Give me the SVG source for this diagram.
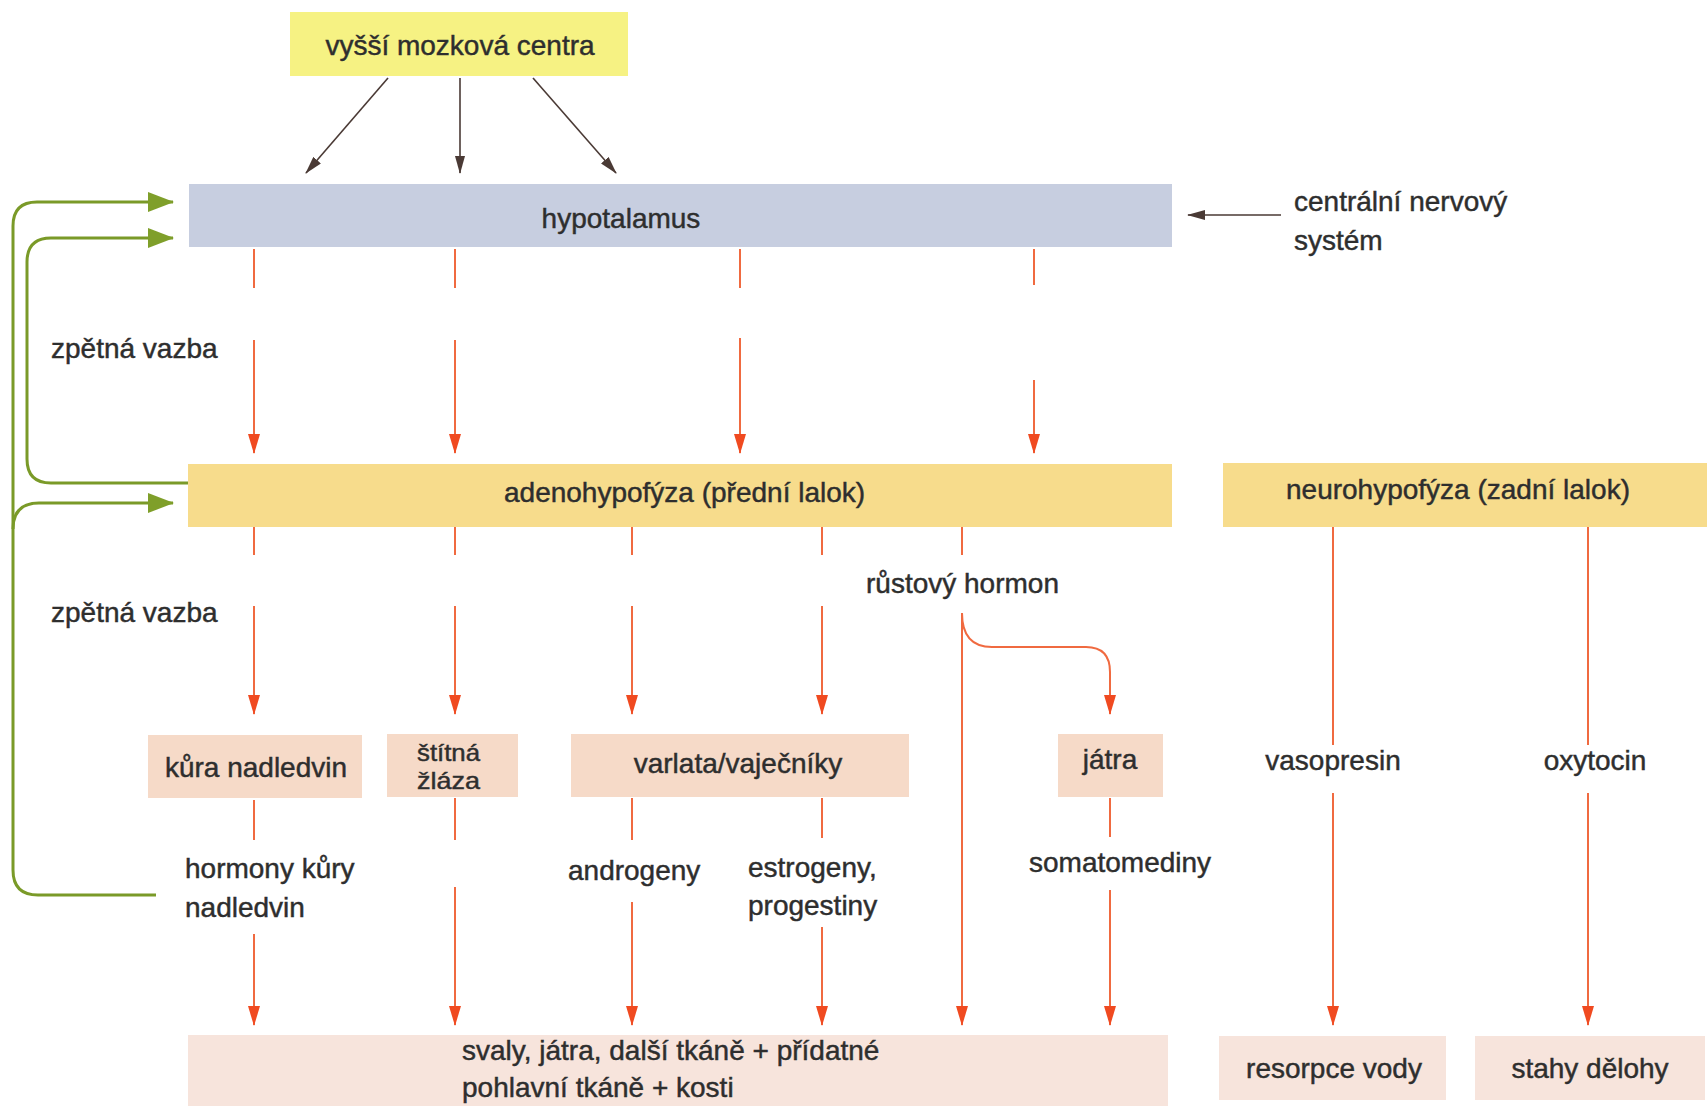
<svg xmlns="http://www.w3.org/2000/svg" width="1707" height="1106" viewBox="0 0 1707 1106">
<style>
  text { font-family: "Liberation Sans", Arial, sans-serif; font-size: 28px; fill: #2e2e2e; stroke: #2e2e2e; stroke-width: 0.45; }
  .mid { text-anchor: middle; }
  .small { font-size: 24px; }
  .red { stroke: #f06a40; stroke-width: 2; fill: none; }
  .green { stroke: #7a9a28; stroke-width: 3; fill: none; }
  .dark { stroke: #4a3a35; stroke-width: 1.6; fill: none; }
  .yellow { fill: #f6f283; }
  .blue { fill: #c7cee0; }
  .gold { fill: #f7dc8c; }
  .peach { fill: #f6dac8; }
  .pink { fill: #f7e4dc; }
</style>
<defs>
  <marker id="ar" markerUnits="userSpaceOnUse" markerWidth="12" markerHeight="20" refX="6" refY="19" orient="0" viewBox="0 0 12 20">
    <path d="M0,0 L12,0 L6,20 Z" fill="#f04a20"/>
  </marker>
  <marker id="ag" markerUnits="userSpaceOnUse" markerWidth="26" markerHeight="20" refX="25" refY="10" orient="auto" viewBox="0 0 26 20">
    <path d="M0,0 L26,10 L0,20 Z" fill="#7f9f2a"/>
  </marker>
  <marker id="ad" markerUnits="userSpaceOnUse" markerWidth="18" markerHeight="10" refX="17" refY="5" orient="auto" viewBox="0 0 18 10">
    <path d="M0,0 L18,5 L0,10 Z" fill="#4a3a35"/>
  </marker>
</defs>
<rect width="1707" height="1106" fill="#ffffff"/>

<g id="connectors">
  <!-- higher brain centres to hypothalamus -->
  <line class="dark" x1="388" y1="78" x2="306" y2="173" marker-end="url(#ad)"/>
  <line class="dark" x1="460" y1="78" x2="460" y2="173" marker-end="url(#ad)"/>
  <line class="dark" x1="533" y1="78" x2="616" y2="173" marker-end="url(#ad)"/>
  <line class="dark" x1="1281" y1="215" x2="1188" y2="215" marker-end="url(#ad)"/>

  <!-- hypothalamus to adenohypophysis -->
  <line class="red" x1="254" y1="249" x2="254" y2="288"/>
  <line class="red" x1="254" y1="340" x2="254" y2="453" marker-end="url(#ar)"/>
  <line class="red" x1="455" y1="249" x2="455" y2="288"/>
  <line class="red" x1="455" y1="340" x2="455" y2="453" marker-end="url(#ar)"/>
  <line class="red" x1="740" y1="249" x2="740" y2="288"/>
  <line class="red" x1="740" y1="338" x2="740" y2="453" marker-end="url(#ar)"/>
  <line class="red" x1="1034" y1="249" x2="1034" y2="285"/>
  <line class="red" x1="1034" y1="380" x2="1034" y2="453" marker-end="url(#ar)"/>

  <!-- adenohypophysis to glands -->
  <line class="red" x1="254" y1="527" x2="254" y2="555"/>
  <line class="red" x1="254" y1="606" x2="254" y2="714" marker-end="url(#ar)"/>
  <line class="red" x1="455" y1="527" x2="455" y2="555"/>
  <line class="red" x1="455" y1="606" x2="455" y2="714" marker-end="url(#ar)"/>
  <line class="red" x1="632" y1="527" x2="632" y2="555"/>
  <line class="red" x1="632" y1="606" x2="632" y2="714" marker-end="url(#ar)"/>
  <line class="red" x1="822" y1="527" x2="822" y2="555"/>
  <line class="red" x1="822" y1="606" x2="822" y2="714" marker-end="url(#ar)"/>
  <line class="red" x1="962" y1="527" x2="962" y2="555"/>
  <line class="red" x1="962" y1="613" x2="962" y2="1025" marker-end="url(#ar)"/>
  <path class="red" d="M962,613 Q962,647 992,647 L1086,647 Q1110,647 1110,672 L1110,714" marker-end="url(#ar)"/>

  <!-- glands to tissues -->
  <line class="red" x1="254" y1="800" x2="254" y2="840"/>
  <line class="red" x1="254" y1="934" x2="254" y2="1025" marker-end="url(#ar)"/>
  <line class="red" x1="455" y1="798" x2="455" y2="840"/>
  <line class="red" x1="455" y1="887" x2="455" y2="1025" marker-end="url(#ar)"/>
  <line class="red" x1="632" y1="798" x2="632" y2="840"/>
  <line class="red" x1="632" y1="902" x2="632" y2="1025" marker-end="url(#ar)"/>
  <line class="red" x1="822" y1="798" x2="822" y2="838"/>
  <line class="red" x1="822" y1="927" x2="822" y2="1025" marker-end="url(#ar)"/>
  <line class="red" x1="1110" y1="798" x2="1110" y2="837"/>
  <line class="red" x1="1110" y1="890" x2="1110" y2="1025" marker-end="url(#ar)"/>

  <!-- neurohypophysis -->
  <line class="red" x1="1333" y1="527" x2="1333" y2="745"/>
  <line class="red" x1="1333" y1="793" x2="1333" y2="1025" marker-end="url(#ar)"/>
  <line class="red" x1="1588" y1="527" x2="1588" y2="745"/>
  <line class="red" x1="1588" y1="793" x2="1588" y2="1025" marker-end="url(#ar)"/>

  <!-- feedback loops -->
  <path class="green" d="M156,895 L38,895 Q13,895 13,870 L13,226 Q13,202 37,202 L173,202" marker-end="url(#ag)"/>
  <path class="green" d="M13,529 Q13,503 39,503 L173,503" marker-end="url(#ag)"/>
  <path class="green" d="M188,483 L51,483 Q27,483 27,459 L27,262 Q27,238 51,238 L173,238" marker-end="url(#ag)"/>
</g>

<g id="n-vyssi">
  <rect class="yellow" x="290" y="12" width="338" height="64"/>
  <text class="mid" x="460" y="55">vyšší mozková centra</text>
</g>
<g id="n-hypotalamus">
  <rect class="blue" x="189" y="184" width="983" height="63"/>
  <text class="mid" x="621" y="228">hypotalamus</text>
</g>
<g id="n-cns">
  <text x="1294" y="211">centrální nervový</text>
  <text x="1294" y="250">systém</text>
</g>
<g id="n-zpetna1">
  <text x="51" y="358">zpětná vazba</text>
</g>
<g id="n-zpetna2">
  <text x="51" y="622">zpětná vazba</text>
</g>
<g id="n-adeno">
  <rect class="gold" x="188" y="464" width="984" height="63"/>
  <text x="504" y="502">adenohypofýza (přední lalok)</text>
</g>
<g id="n-neuro">
  <rect class="gold" x="1223" y="463" width="484" height="64"/>
  <text class="mid" x="1458" y="499">neurohypofýza (zadní lalok)</text>
</g>
<g id="n-rust">
  <text x="866" y="593">růstový hormon</text>
</g>
<g id="n-kura">
  <rect class="peach" x="148" y="735" width="214" height="63"/>
  <text class="mid" x="256" y="777">kůra nadledvin</text>
</g>
<g id="n-stitna">
  <rect class="peach" x="387" y="734" width="131" height="63"/>
  <text class="small" x="417" y="761" textLength="63" lengthAdjust="spacingAndGlyphs">štítná</text>
  <text class="small" x="417" y="789" textLength="63" lengthAdjust="spacingAndGlyphs">žláza</text>
</g>
<g id="n-varlata">
  <rect class="peach" x="571" y="734" width="338" height="63"/>
  <text class="mid" x="738" y="773">varlata/vaječníky</text>
</g>
<g id="n-jatra">
  <rect class="peach" x="1058" y="734" width="105" height="63"/>
  <text class="mid" x="1110" y="769">játra</text>
</g>
<g id="n-vasopresin">
  <text class="mid" x="1333" y="770">vasopresin</text>
</g>
<g id="n-oxytocin">
  <text class="mid" x="1595" y="770">oxytocin</text>
</g>
<g id="n-hormony">
  <text x="185" y="878">hormony kůry</text>
  <text x="185" y="917">nadledvin</text>
</g>
<g id="n-androgeny">
  <text x="568" y="880">androgeny</text>
</g>
<g id="n-estrogeny">
  <text x="748" y="877">estrogeny,</text>
  <text x="748" y="915">progestiny</text>
</g>
<g id="n-somatomediny">
  <text x="1029" y="872">somatomediny</text>
</g>
<g id="n-svaly">
  <rect class="pink" x="188" y="1035" width="980" height="75"/>
  <text x="462" y="1060">svaly, játra, další tkáně + přídatné</text>
  <text x="462" y="1097">pohlavní tkáně + kosti</text>
</g>
<g id="n-resorpce">
  <rect class="pink" x="1219" y="1036" width="227" height="64"/>
  <text class="mid" x="1334" y="1078">resorpce vody</text>
</g>
<g id="n-stahy">
  <rect class="pink" x="1475" y="1036" width="230" height="64"/>
  <text class="mid" x="1590" y="1078">stahy dělohy</text>
</g>
</svg>
